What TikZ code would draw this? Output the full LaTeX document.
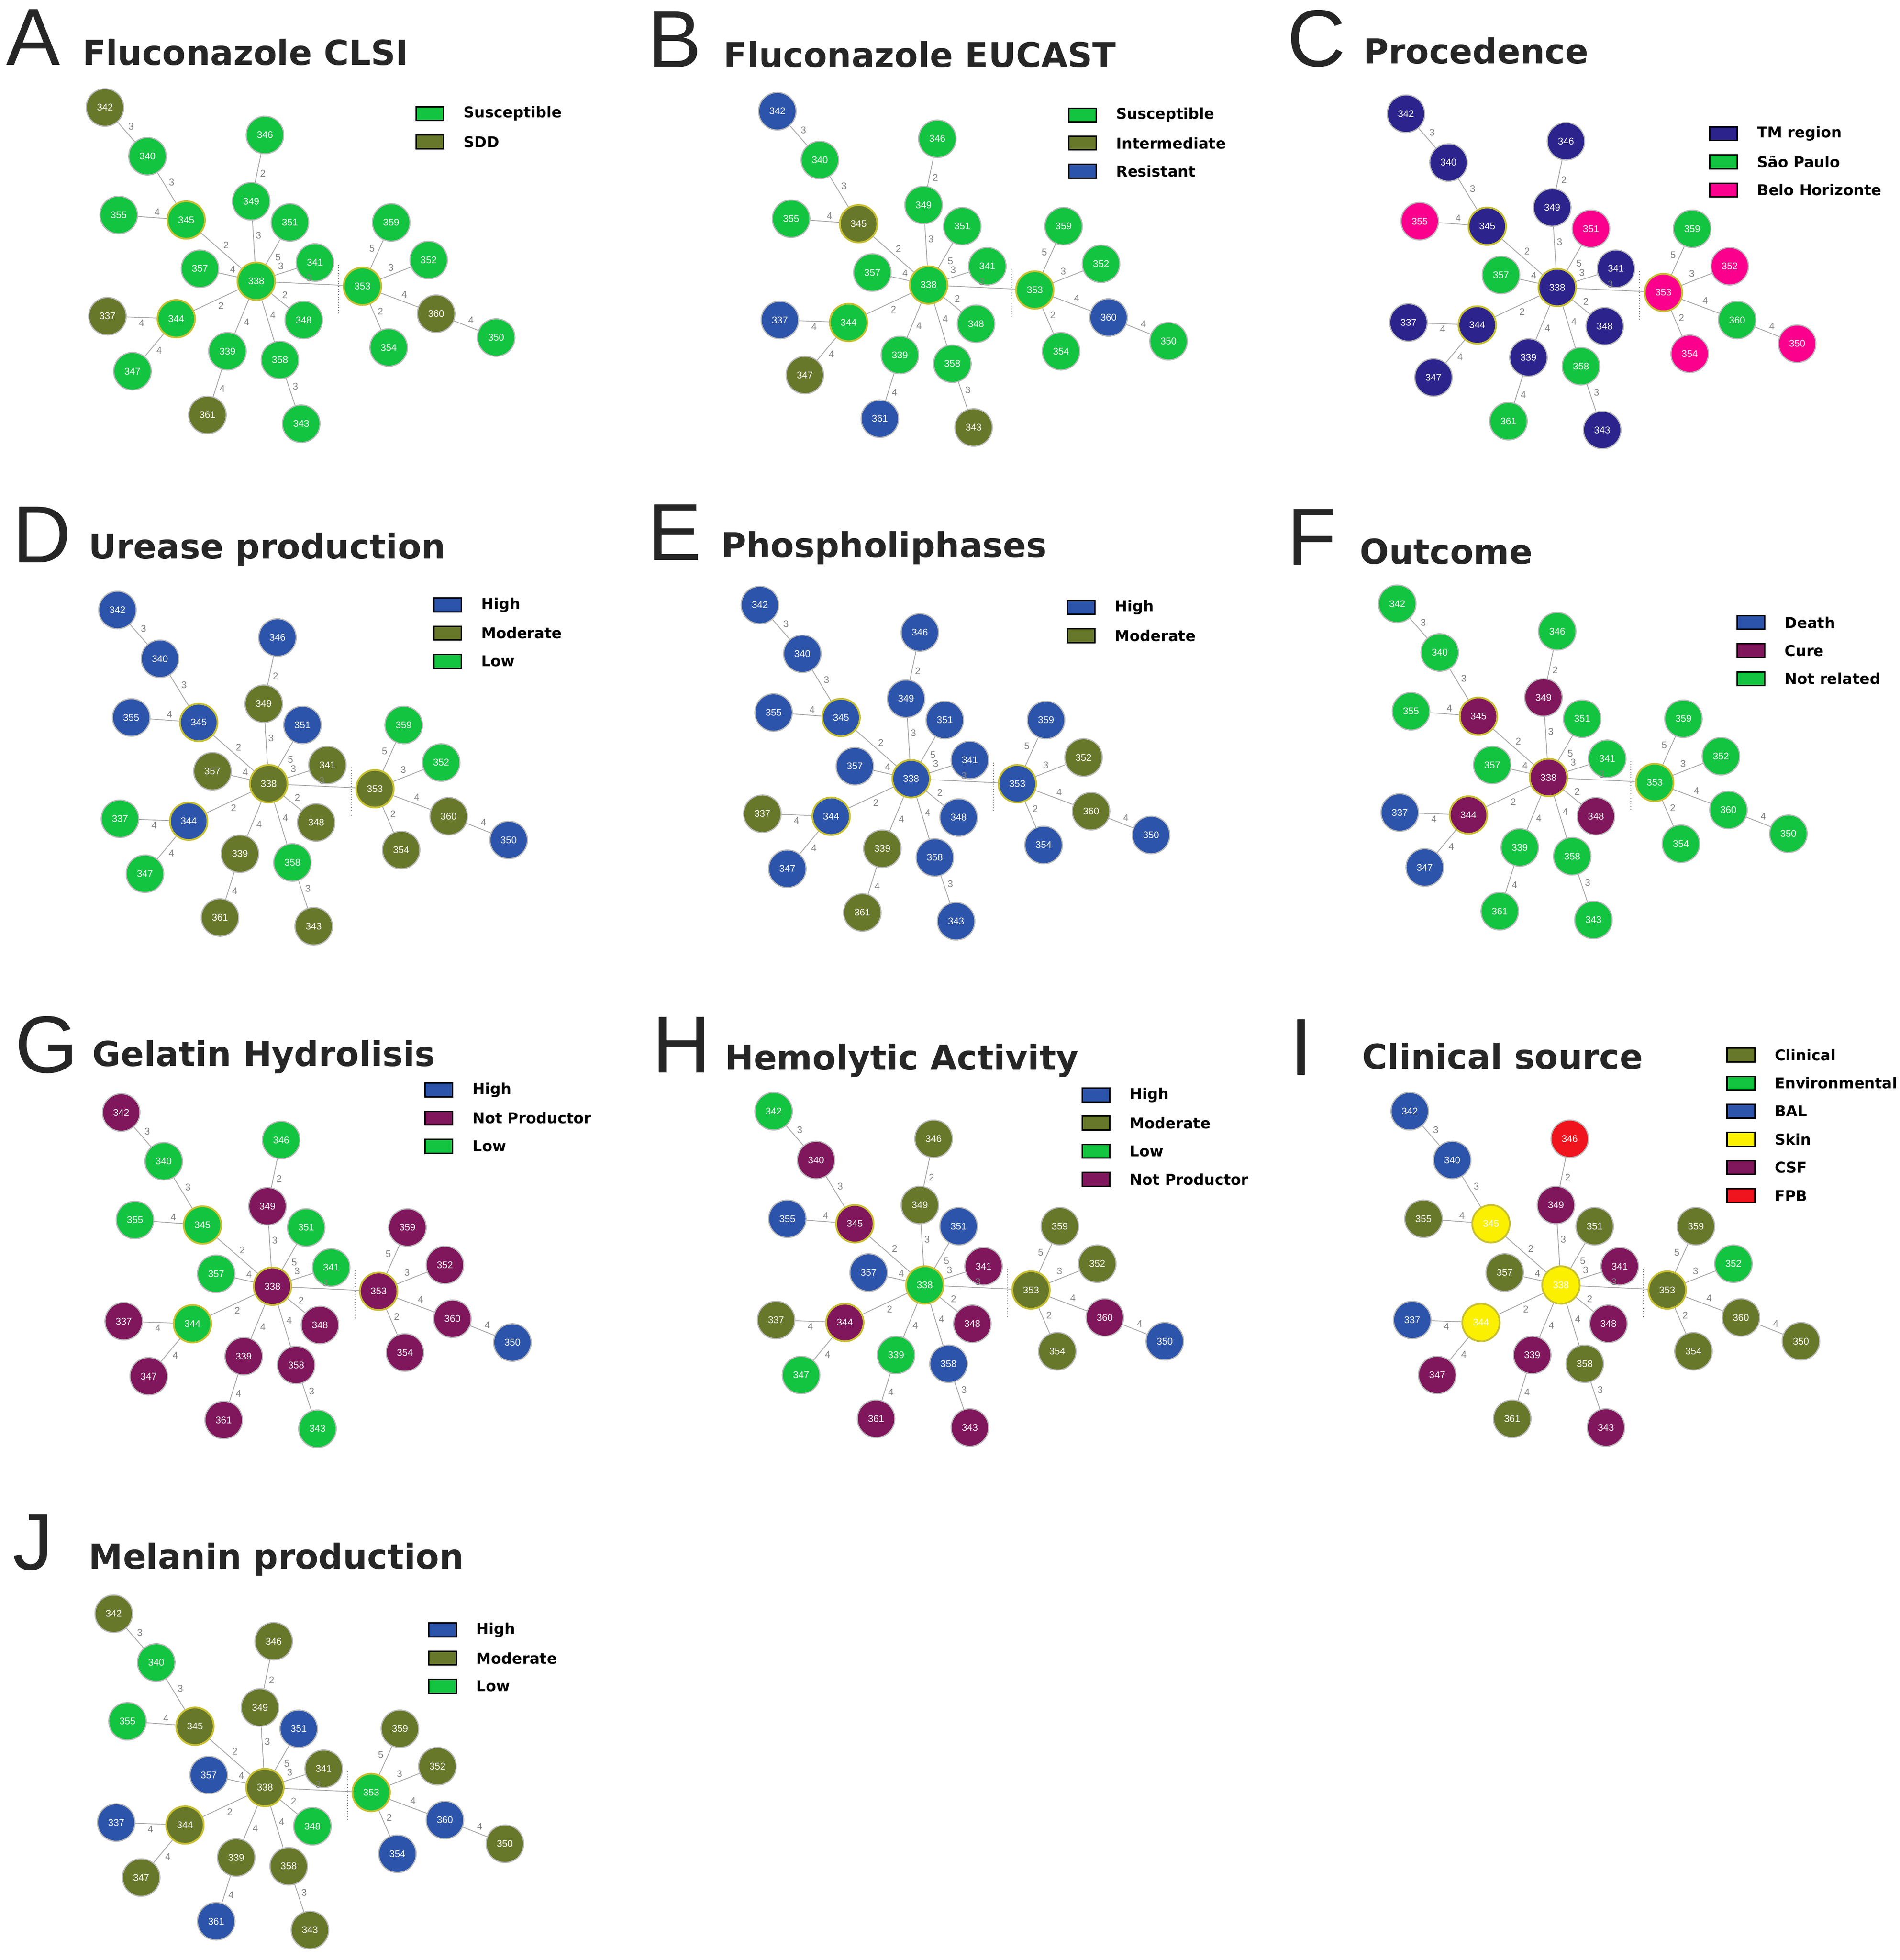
\documentclass[tikz,border=0pt]{standalone}
\usepackage{fontspec}
\setsansfont{Liberation Sans}
\newfontfamily\heavyfont{DejaVu Sans}
\usetikzlibrary{calc}

\definecolor{cG}{RGB}{18,196,64}
\definecolor{cO}{RGB}{104,120,42}
\definecolor{cB}{RGB}{44,84,170}
\definecolor{cN}{RGB}{44,36,140}
\definecolor{cP}{RGB}{250,0,140}
\definecolor{cM}{RGB}{128,22,92}
\definecolor{cY}{RGB}{250,240,0}
\definecolor{cR}{RGB}{240,20,30}

\tikzset{
  iso/.style={circle, draw=gray!55, line width=1.3pt, minimum size=1.5cm, inner sep=0pt,
    text=white, font=\sffamily\fontsize{11}{11}\selectfont},
  hub/.style={draw=yellow!75!black, line width=2pt},
  link/.style={gray!70, line width=0.9pt},
  elabel/.style={text=gray, inner sep=2pt, font=\sffamily\fontsize{11}{11}\selectfont},
  ptitle/.style={anchor=base west, inner sep=0pt, font=\heavyfont\bfseries\fontsize{39}{39}\selectfont, text=black!85},
  pletter/.style={anchor=base west, inner sep=0pt, font=\sffamily\fontsize{92}{92}\selectfont, text=black!85},
  legtext/.style={anchor=west, inner sep=0pt, font=\heavyfont\bfseries\fontsize{17}{17}\selectfont}
}

% colour of every isolate for one panel
\newcommand\setcols[1]{%
  \foreach \n/\c in {#1} {\expandafter\xdef\csname col\n\endcsname{c\c}}}

% the network, shifted by (#1,#2)
\newcommand\network[2]{%
  \begin{scope}[shift={(#1,#2)}]
  \foreach \n/\x/\y in {342/84/86, 340/118/125, 355/95/172, 349/201/161, 346/212/108,
      351/232/178, 357/160/215, 341/252/210, 359/313/178, 352/343/208, 360/349/251,
      350/397/270, 354/311/278, 348/243/256, 358/224/288, 343/241/339, 339/182/281,
      361/166/332, 337/86/253, 347/106/297} {
    \edef\fc{\csname col\n\endcsname}
    \node[iso, fill=\fc] (n\n) at (\x,\y) {\n};
  }
  \foreach \n/\x/\y in {345/149/176, 338/205/225, 353/290/229, 344/141/255} {
    \edef\fc{\csname col\n\endcsname}
    \node[iso, hub, fill=\fc] (n\n) at (\x,\y) {\n};
  }
  \foreach \a/\b/\w in {342/340/3, 340/345/3, 355/345/4, 345/338/2, 346/349/2, 349/338/3,
      351/338/5, 357/338/4, 338/341/3, 338/353/3, 338/348/2, 338/358/4, 358/343/3,
      338/339/4, 339/361/4, 338/344/2, 344/337/4, 344/347/4, 353/359/5, 353/352/3,
      353/360/4, 360/350/4, 353/354/2}
    \draw[link] (n\a) -- node[elabel, auto] {\w} (n\b);
  \draw[gray, dotted, line width=1pt] (271,212) -- (271,252);
  \end{scope}}

% legend: x, y, colour/text list
\newcommand\legend[3]{%
  \foreach \c/\t [count=\i from 0] in {#3} {
    \draw[line width=1.6pt, fill=c\c] (#1,#2+22.5*\i-5.5) rectangle ++(22,11);
    \node[legtext] (leg\i) at (#1+38,#2+22.5*\i) {\t};
  }}

\begin{document}
\begin{tikzpicture}[x=0.05cm, y=-0.05cm]
\useasboundingbox (0,0) rectangle (1520,1568);

% A
\node[pletter] (letA) at (5,52) {A};
\node[ptitle] (titA) at (66,52) {Fluconazole CLSI};
\setcols{342/O,340/G,345/G,355/G,349/G,346/G,351/G,357/G,338/G,341/G,353/G,359/G,352/G,360/O,350/G,354/G,348/G,358/G,343/G,339/G,361/O,344/G,337/O,347/G}
\network{0}{0}
\legend{333}{91}{G/Susceptible, O/SDD}

% B
\node[pletter] (letB) at (518,54) {B};
\node[ptitle] (titB) at (579,54) {Fluconazole EUCAST};
\setcols{342/B,340/G,345/O,355/G,349/G,346/G,351/G,357/G,338/G,341/G,353/G,359/G,352/G,360/B,350/G,354/G,348/G,358/G,343/O,339/G,361/B,344/G,337/B,347/O}
\network{538}{3}
\legend{855}{92}{G/Susceptible, O/Intermediate, B/Resistant}

% C
\node[pletter] (letC) at (1030,53) {C};
\node[ptitle] (titC) at (1091,51) {Procedence};
\setcols{342/N,340/N,345/N,355/P,349/N,346/N,351/P,357/G,338/N,341/N,353/P,359/G,352/P,360/G,350/P,354/P,348/N,358/G,343/N,339/N,361/G,344/N,337/N,347/N}
\network{1041}{5}
\legend{1368}{107}{N/TM region, G/São Paulo, P/Belo Horizonte}

% D
\node[pletter] (letD) at (10,450) {D};
\node[ptitle] (titD) at (71,447) {Urease production};
\setcols{342/B,340/B,345/B,355/B,349/O,346/B,351/B,357/O,338/O,341/O,353/O,359/G,352/G,360/O,350/B,354/O,348/O,358/G,343/O,339/O,361/O,344/B,337/G,347/G}
\network{10}{402}
\legend{347}{484}{B/High, O/Moderate, G/Low}

% E
\node[pletter] (letE) at (518,448) {E};
\node[ptitle] (titE) at (577,446) {Phospholiphases};
\setcols{342/B,340/B,345/B,355/B,349/B,346/B,351/B,357/B,338/B,341/B,353/B,359/B,352/O,360/O,350/B,354/B,348/B,358/B,343/B,339/O,361/O,344/B,337/O,347/B}
\network{524}{398}
\legend{854}{486}{B/High, O/Moderate}

% F
\node[pletter] (letF) at (1030,452) {F};
\node[ptitle] (titF) at (1088,451) {Outcome};
\setcols{342/G,340/G,345/M,355/G,349/M,346/G,351/G,357/G,338/M,341/G,353/G,359/G,352/G,360/G,350/G,354/G,348/M,358/G,343/G,339/G,361/G,344/M,337/B,347/B}
\network{1034}{397}
\legend{1390}{498}{B/Death, M/Cure, G/Not related}

% G
\node[pletter] (letG) at (12,858) {G};
\node[ptitle] (titG) at (74,853) {Gelatin Hydrolisis};
\setcols{342/M,340/G,345/G,355/G,349/M,346/G,351/G,357/G,338/M,341/G,353/M,359/M,352/M,360/M,350/B,354/M,348/M,358/M,343/G,339/M,361/M,344/G,337/M,347/M}
\network{13}{804}
\legend{340}{872}{B/High, M/Not Productor, G/Low}

% H
\node[pletter] (letH) at (522,858) {H};
\node[ptitle] (titH) at (580,856) {Hemolytic Activity};
\setcols{342/G,340/M,345/M,355/B,349/O,346/O,351/B,357/B,338/G,341/M,353/O,359/O,352/O,360/M,350/B,354/O,348/M,358/B,343/M,339/G,361/M,344/M,337/O,347/G}
\network{535}{803}
\legend{866}{876}{B/High, O/Moderate, G/Low, M/Not Productor}

% I
\node[pletter] (letI) at (1032,860) {I};
\node[ptitle] (titI) at (1090,855) {Clinical source};
\setcols{342/B,340/B,345/Y,355/O,349/M,346/R,351/O,357/O,338/Y,341/M,353/O,359/O,352/G,360/O,350/O,354/O,348/M,358/O,343/M,339/M,361/O,344/Y,337/B,347/M}
\network{1044}{803}
\legend{1382}{844}{O/Clinical, G/Environmental, B/BAL, Y/Skin, M/CSF, R/FPB}

% J
\node[pletter] (letJ) at (10,1256) {J};
\node[ptitle] (titJ) at (71,1255) {Melanin production};
\setcols{342/O,340/G,345/O,355/G,349/O,346/O,351/B,357/B,338/O,341/O,353/G,359/O,352/O,360/B,350/O,354/B,348/G,358/O,343/O,339/O,361/B,344/O,337/B,347/O}
\network{7}{1205}
\legend{343}{1304}{B/High, O/Moderate, G/Low}

\end{tikzpicture}
\end{document}
